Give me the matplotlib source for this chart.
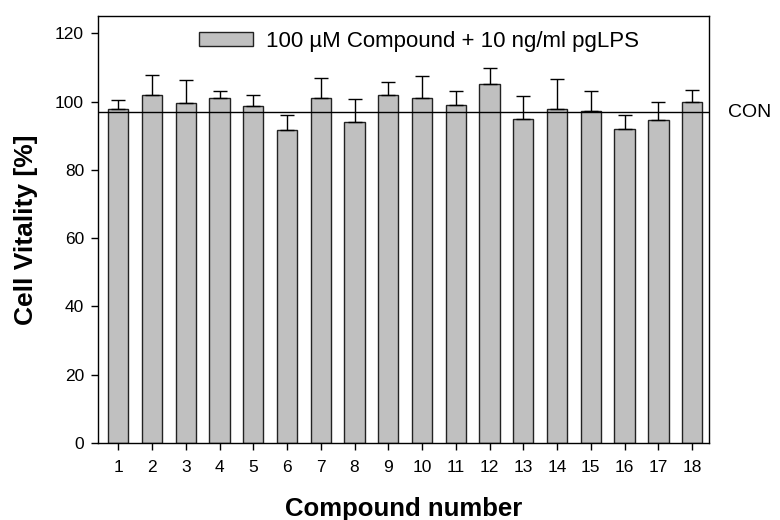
import matplotlib.pyplot as plt
import numpy as np

plt.rcParams['font.family'] = ['Liberation Sans', 'DejaVu Sans']

# Werte
compounds = list(range(1, 19))
vitality = [97.8, 101.9, 99.7, 101.0, 98.8, 91.6, 101.0, 93.9, 101.9,
            101.0, 99.1, 105.0, 94.9, 97.7, 97.1, 91.9, 94.7, 100.0]
err_top = [100.3, 107.8, 106.4, 103.2, 101.9, 96.1, 107.0, 100.8, 105.6,
           107.6, 103.0, 109.8, 101.6, 106.7, 103.0, 96.1, 99.9, 103.3]
con_level = 96.9

errors = [t - v for t, v in zip(err_top, vitality)]
lower = [0] * len(errors)

fig = plt.figure(figsize=(7.8, 5.2), dpi=100)
ax = fig.add_axes([0.1256, 0.148, 0.7834, 0.821])

ax.bar(compounds, vitality, width=0.6, color='#c0c0c0', edgecolor='#222222',
       linewidth=1.0, label='100 µM Compound + 10 ng/ml pgLPS', zorder=2)
ax.errorbar(compounds, vitality, yerr=[lower, errors], fmt='none',
            ecolor='black', elinewidth=1.0, capsize=5, capthick=1.0, zorder=3)

ax.axhline(con_level, color='black', linewidth=1.0, zorder=4)
ax.text(1.031, con_level, 'CON', transform=ax.get_yaxis_transform(),
        ha='left', va='center', fontsize=14)

ax.set_xlim(0.4, 18.5)
ax.set_ylim(0, 125)
ax.set_xticks(compounds)
ax.set_yticks([0, 20, 40, 60, 80, 100, 120])
ax.tick_params(axis='both', labelsize=12.5, direction='out', length=5, width=1)
ax.tick_params(axis='x', pad=7)
ax.tick_params(axis='y', pad=5)

ax.set_xlabel('Compound number', fontsize=18.5, fontweight='bold', va='center')
ax.xaxis.set_label_coords(0.5, -0.155)
ax.set_ylabel('Cell Vitality [%]', fontsize=19, fontweight='bold', va='center')
ax.yaxis.set_label_coords(-0.117, 0.5)

leg = ax.legend(loc='center left', bbox_to_anchor=(0.165, 0.941), frameon=False,
                fontsize=16, handlelength=2.43, handleheight=0.56,
                handletextpad=0.6, borderpad=0, borderaxespad=0)

for sp in ax.spines.values():
    sp.set_linewidth(1.0)

fig.savefig('out.png', dpi=100)
